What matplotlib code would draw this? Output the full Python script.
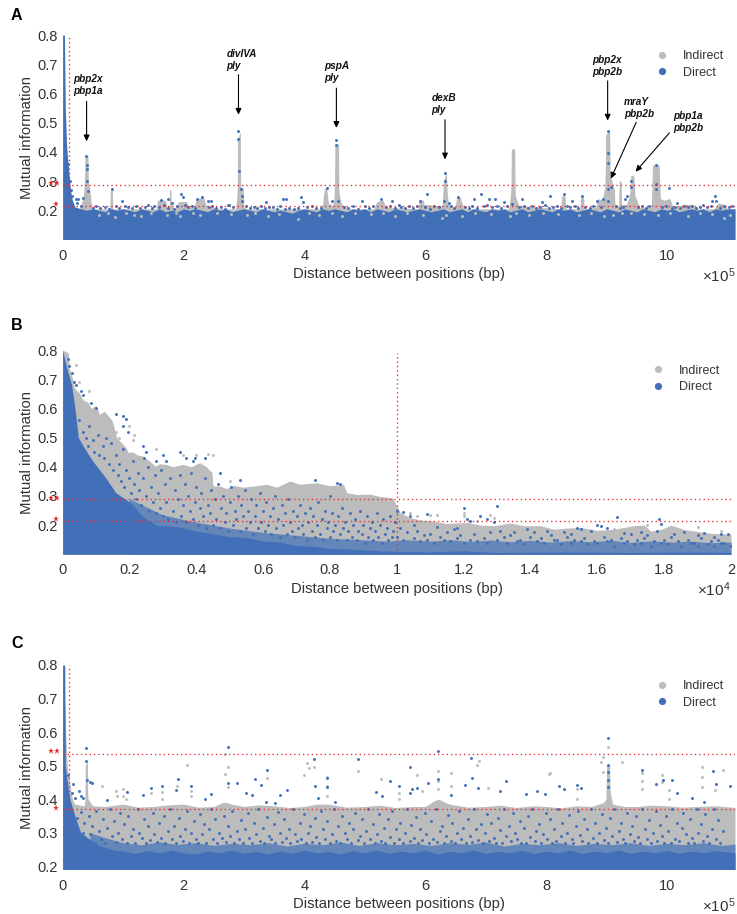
import numpy as np
import matplotlib
matplotlib.use('Agg')
import matplotlib.pyplot as plt
from matplotlib.lines import Line2D
from matplotlib.transforms import blended_transform_factory

plt.rcParams['font.family'] = ['Liberation Sans', 'DejaVu Sans']
plt.rcParams['mathtext.fontset'] = 'custom'
plt.rcParams['mathtext.rm'] = 'Liberation Sans'

BLUE = '#4170b8'
GREY = '#bcbcbc'
RED = '#e8262c'
TEXT = '#333333'

# The dense clouds cannot be read point by point: they are kept as read-off
# upper envelopes. Dots standing apart are read one by one; the *_fill lists
# inside the clouds are hand estimates of where dots sit, to match the density.

# ---- panel A (x in 1e5 bp)
a_blue_top_x = [0, 0.03, 0.045, 0.066, 0.094, 0.13, 0.16, 0.2, 0.3, 0.4, 0.5, 0.6, 0.7, 0.8, 0.9, 1.0, 1.1, 1.2, 1.3, 1.4, 1.5, 1.6, 1.7, 1.8, 1.9, 2.0, 2.1, 2.2, 2.3, 2.4, 2.5, 2.6, 2.7, 2.8, 2.9, 3.0, 3.1, 3.2, 3.3, 3.4, 3.5, 3.6, 3.7, 3.8, 3.9, 4.0, 4.1, 4.2, 4.3, 4.4, 4.5, 4.6, 4.7, 4.8, 4.9, 5.0, 5.1, 5.2, 5.3, 5.4, 5.5, 5.6, 5.7, 5.8, 5.9, 6.0, 6.1, 6.2, 6.3, 6.4, 6.5, 6.6, 6.7, 6.8, 6.9, 7.0, 7.1, 7.2, 7.3, 7.4, 7.5, 7.6, 7.7, 7.8, 7.9, 8.0, 8.1, 8.2, 8.3, 8.4, 8.5, 8.6, 8.7, 8.8, 8.9, 9.0, 9.1, 9.2, 9.3, 9.4, 9.5, 9.6, 9.7, 9.8, 9.9, 10.0, 10.1, 10.2, 10.3, 10.4, 10.5, 10.6, 10.7, 10.8, 10.9, 11.0, 11.125]
a_blue_top = [0.8, 0.8, 0.55, 0.42, 0.35, 0.27, 0.235, 0.212, 0.205, 0.2, 0.205, 0.2, 0.195, 0.205, 0.2, 0.205, 0.2, 0.195, 0.205, 0.2, 0.195, 0.205, 0.195, 0.2, 0.195, 0.205, 0.2, 0.205, 0.2, 0.195, 0.205, 0.2, 0.205, 0.195, 0.2, 0.205, 0.2, 0.195, 0.205, 0.2, 0.195, 0.2, 0.195, 0.19, 0.2, 0.205, 0.2, 0.195, 0.205, 0.2, 0.205, 0.2, 0.195, 0.205, 0.2, 0.205, 0.195, 0.205, 0.2, 0.195, 0.205, 0.2, 0.195, 0.2, 0.205, 0.2, 0.195, 0.2, 0.205, 0.195, 0.2, 0.205, 0.195, 0.205, 0.2, 0.195, 0.205, 0.2, 0.205, 0.195, 0.2, 0.205, 0.195, 0.2, 0.205, 0.2, 0.195, 0.205, 0.2, 0.205, 0.195, 0.2, 0.205, 0.2, 0.195, 0.205, 0.2, 0.195, 0.205, 0.2, 0.195, 0.205, 0.2, 0.195, 0.205, 0.2, 0.205, 0.195, 0.2, 0.205, 0.2, 0.205, 0.195, 0.205, 0.2, 0.205, 0.205]
a_grey_top_x = [0.2, 0.3, 0.33, 0.345, 0.36, 0.365, 0.37, 0.42, 0.425, 0.45, 0.47, 0.5, 0.78, 0.785, 0.79, 0.825, 0.83, 1.55, 1.57, 1.62, 1.7, 1.73, 1.765, 1.77, 1.79, 1.8, 1.85, 1.9, 1.92, 2.05, 2.1, 2.18, 2.2, 2.24, 2.33, 2.38, 2.5, 2.6, 2.86, 2.88, 2.89, 2.895, 2.94, 2.945, 2.95, 2.99, 3.0, 3.05, 4.25, 4.3, 4.33, 4.37, 4.4, 4.42, 4.47, 4.49, 4.5, 4.505, 4.565, 4.57, 4.59, 4.62, 4.7, 5.15, 5.2, 5.3, 5.35, 5.88, 5.9, 5.97, 5.98, 6.28, 6.29, 6.3, 6.35, 6.36, 6.38, 6.45, 6.5, 6.52, 6.58, 6.6, 6.65, 7.38, 7.41, 7.42, 7.425, 7.48, 7.485, 7.49, 7.55, 8.24, 8.26, 8.31, 8.33, 8.56, 8.57, 8.62, 8.63, 8.82, 8.86, 8.93, 8.97, 8.98, 8.985, 9.05, 9.06, 9.13, 9.14, 9.2, 9.21, 9.24, 9.25, 9.33, 9.37, 9.39, 9.40, 9.45, 9.47, 9.5, 9.55, 9.74, 9.75, 9.76, 9.87, 9.88, 9.89, 9.95, 10.05, 10.1, 10.3, 10.4, 10.5, 10.78, 10.85, 10.95, 11.0, 11.125]
a_grey_top = [0.2, 0.21, 0.24, 0.245, 0.3, 0.33, 0.385, 0.385, 0.3, 0.27, 0.23, 0.205, 0.205, 0.235, 0.27, 0.27, 0.205, 0.205, 0.235, 0.235, 0.235, 0.21, 0.215, 0.27, 0.27, 0.215, 0.205, 0.22, 0.23, 0.23, 0.21, 0.21, 0.235, 0.24, 0.245, 0.215, 0.21, 0.205, 0.205, 0.24, 0.28, 0.44, 0.47, 0.3, 0.28, 0.275, 0.21, 0.205, 0.205, 0.22, 0.275, 0.275, 0.22, 0.225, 0.215, 0.24, 0.3, 0.42, 0.43, 0.27, 0.24, 0.22, 0.205, 0.205, 0.23, 0.235, 0.21, 0.205, 0.235, 0.235, 0.22, 0.215, 0.25, 0.3, 0.33, 0.27, 0.225, 0.205, 0.215, 0.245, 0.245, 0.23, 0.205, 0.205, 0.25, 0.3, 0.41, 0.41, 0.3, 0.25, 0.215, 0.205, 0.25, 0.25, 0.205, 0.205, 0.245, 0.245, 0.205, 0.21, 0.24, 0.235, 0.28, 0.34, 0.46, 0.47, 0.32, 0.27, 0.215, 0.215, 0.3, 0.3, 0.22, 0.22, 0.245, 0.27, 0.32, 0.32, 0.25, 0.235, 0.21, 0.21, 0.28, 0.355, 0.355, 0.29, 0.24, 0.235, 0.24, 0.21, 0.22, 0.22, 0.205, 0.205, 0.225, 0.22, 0.205, 0.205]
a_dots_x = [0.094, 0.08, 0.115, 0.14, 0.15, 0.22, 0.26, 0.33, 0.39, 0.4, 0.4, 0.41, 0.42, 0.81, 0.99, 1.63, 1.74, 1.81, 1.96, 1.99, 2.3, 2.22, 2.4, 2.45, 2.76, 2.91, 2.91, 2.92, 2.95, 2.97, 2.97, 3.37, 3.65, 3.7, 3.94, 3.98, 4.37, 4.45, 4.52, 4.53, 4.55, 4.95, 5.26, 5.45, 5.56, 5.92, 6.03, 6.32, 6.33, 6.31, 6.39, 6.54, 6.8, 6.92, 7.05, 7.16, 7.3, 7.44, 7.6, 7.93, 8.07, 8.29, 8.43, 8.59, 8.84, 8.94, 9.02, 9.02, 9.02, 9.02, 9.07, 9.03, 9.31, 9.34, 9.41, 9.41, 9.81, 9.81, 9.82, 10.03, 10.17, 10.79, 10.74, 10.81]
a_dots_y = [0.357, 0.346, 0.3, 0.269, 0.25, 0.238, 0.24, 0.243, 0.385, 0.354, 0.34, 0.3, 0.266, 0.272, 0.232, 0.234, 0.237, 0.226, 0.255, 0.247, 0.247, 0.238, 0.233, 0.233, 0.218, 0.473, 0.444, 0.336, 0.274, 0.25, 0.232, 0.229, 0.238, 0.237, 0.246, 0.229, 0.275, 0.232, 0.439, 0.423, 0.232, 0.232, 0.238, 0.232, 0.218, 0.232, 0.255, 0.327, 0.3, 0.232, 0.226, 0.245, 0.238, 0.255, 0.238, 0.24, 0.23, 0.22, 0.238, 0.23, 0.25, 0.255, 0.233, 0.25, 0.232, 0.238, 0.47, 0.397, 0.362, 0.272, 0.28, 0.232, 0.24, 0.25, 0.3, 0.278, 0.355, 0.289, 0.272, 0.277, 0.226, 0.25, 0.232, 0.232]
a_fill_x = [0.23, 0.3, 0.5, 0.55, 0.62, 0.7, 0.76, 0.88, 0.94, 1.03, 1.09, 1.15, 1.22, 1.28, 1.36, 1.41, 1.48, 1.52, 1.59, 1.68, 1.75, 1.84, 1.9, 2.02, 2.08, 2.14, 2.19, 2.42, 2.48, 2.54, 2.62, 2.68, 2.74, 2.82, 3.04, 3.1, 3.16, 3.22, 3.29, 3.35, 3.42, 3.48, 3.55, 3.6, 3.68, 3.75, 3.83, 3.9, 4.05, 4.12, 4.2, 4.27, 4.65, 4.72, 4.8, 4.88, 5.0, 5.07, 5.13, 5.35, 5.42, 5.5, 5.6, 5.66, 5.73, 5.8, 5.86, 6.0, 6.08, 6.15, 6.22, 6.42, 6.48, 6.66, 6.72, 6.78, 6.86, 6.97, 7.02, 7.1, 7.18, 7.26, 7.35, 7.55, 7.63, 7.7, 7.77, 7.84, 7.9, 7.98, 8.04, 8.11, 8.18, 8.24, 8.34, 8.4, 8.47, 8.52, 8.65, 8.72, 8.78, 8.9, 9.16, 9.22, 9.28, 9.52, 9.58, 9.65, 9.7, 9.92, 9.98, 10.08, 10.14, 10.22, 10.28, 10.34, 10.42, 10.48, 10.54, 10.6, 10.66, 10.72, 10.88, 10.94, 11.02, 11.08]
a_fill_y = [0.225, 0.216, 0.209, 0.214, 0.208, 0.212, 0.206, 0.216, 0.209, 0.213, 0.21, 0.207, 0.215, 0.209, 0.212, 0.218, 0.208, 0.213, 0.21, 0.217, 0.209, 0.206, 0.214, 0.218, 0.21, 0.215, 0.208, 0.21, 0.214, 0.208, 0.212, 0.206, 0.218, 0.21, 0.214, 0.208, 0.212, 0.207, 0.216, 0.208, 0.212, 0.21, 0.206, 0.213, 0.205, 0.209, 0.204, 0.208, 0.212, 0.216, 0.209, 0.207, 0.212, 0.209, 0.214, 0.206, 0.213, 0.209, 0.216, 0.21, 0.215, 0.208, 0.212, 0.207, 0.216, 0.209, 0.214, 0.21, 0.206, 0.216, 0.21, 0.213, 0.208, 0.212, 0.209, 0.216, 0.207, 0.213, 0.218, 0.21, 0.214, 0.208, 0.216, 0.21, 0.213, 0.207, 0.215, 0.209, 0.212, 0.217, 0.208, 0.211, 0.216, 0.208, 0.213, 0.21, 0.215, 0.209, 0.212, 0.207, 0.216, 0.21, 0.214, 0.208, 0.212, 0.21, 0.216, 0.209, 0.213, 0.21, 0.215, 0.208, 0.212, 0.207, 0.216, 0.21, 0.214, 0.208, 0.212, 0.217, 0.21, 0.215, 0.209, 0.213, 0.21, 0.214]
a_speck_x = [0.6, 0.75, 0.86, 1.05, 1.18, 1.3, 1.46, 1.72, 1.88, 1.95, 2.15, 2.28, 2.56, 2.78, 3.05, 3.18, 3.4, 3.58, 3.9, 4.08, 4.25, 4.45, 4.62, 4.84, 5.1, 5.3, 5.5, 5.7, 5.96, 6.28, 6.35, 6.6, 6.82, 7.08, 7.4, 7.5, 7.72, 7.95, 8.2, 8.55, 8.75, 8.95, 9.1, 9.25, 9.4, 9.62, 9.85, 10.05, 10.35, 10.55, 10.75, 10.95, 11.05]
a_speck_y = [0.185, 0.192, 0.178, 0.19, 0.184, 0.18, 0.192, 0.185, 0.19, 0.18, 0.19, 0.183, 0.19, 0.186, 0.185, 0.192, 0.18, 0.188, 0.17, 0.192, 0.185, 0.19, 0.182, 0.192, 0.187, 0.19, 0.18, 0.19, 0.185, 0.175, 0.185, 0.18, 0.192, 0.186, 0.18, 0.19, 0.183, 0.192, 0.186, 0.185, 0.19, 0.18, 0.185, 0.192, 0.19, 0.186, 0.185, 0.192, 0.18, 0.19, 0.186, 0.175, 0.185]

# ---- panel B (x in 1e4 bp)
b_grey_top_x = [0, 0.017, 0.02, 0.03, 0.035, 0.052, 0.06, 0.077, 0.085, 0.1, 0.11, 0.125, 0.147, 0.15, 0.162, 0.17, 0.19, 0.195, 0.21, 0.225, 0.24, 0.26, 0.277, 0.29, 0.31, 0.33, 0.36, 0.385, 0.41, 0.43, 0.447, 0.45, 0.47, 0.49, 0.51, 0.54, 0.58, 0.61, 0.64, 0.68, 0.71, 0.76, 0.8, 0.84, 0.85, 0.88, 0.92, 0.95, 0.987, 1.0, 1.01, 1.04, 1.07, 1.11, 1.15, 1.21, 1.25, 1.29, 1.34, 1.38, 1.43, 1.47, 1.51, 1.55, 1.6, 1.65, 1.71, 1.74, 1.76, 1.79, 1.82, 1.86, 1.89, 1.94, 2.0]
b_grey_top = [0.8, 0.79, 0.74, 0.7, 0.67, 0.65, 0.63, 0.62, 0.6, 0.61, 0.58, 0.59, 0.56, 0.55, 0.5, 0.49, 0.465, 0.45, 0.45, 0.44, 0.436, 0.42, 0.402, 0.41, 0.408, 0.4, 0.408, 0.4, 0.414, 0.4, 0.38, 0.334, 0.334, 0.325, 0.336, 0.33, 0.335, 0.34, 0.33, 0.351, 0.34, 0.345, 0.335, 0.34, 0.311, 0.305, 0.306, 0.298, 0.294, 0.266, 0.243, 0.226, 0.218, 0.213, 0.206, 0.209, 0.2, 0.198, 0.207, 0.198, 0.198, 0.186, 0.19, 0.192, 0.182, 0.186, 0.198, 0.2, 0.18, 0.185, 0.2, 0.185, 0.18, 0.172, 0.169]
b_blue_top_x = [0, 0.012, 0.027, 0.037, 0.047, 0.062, 0.09, 0.13, 0.16, 0.2, 0.24, 0.28, 0.34, 0.4, 0.45, 0.5, 0.55, 0.6, 0.65, 0.7, 0.75, 0.8, 0.85, 0.9, 0.95, 1.0, 1.1, 1.2, 1.3, 1.5, 1.7, 1.9, 2.0]
b_blue_top = [0.8, 0.74, 0.68, 0.6, 0.5, 0.47, 0.42, 0.36, 0.31, 0.28, 0.23, 0.2, 0.195, 0.18, 0.17, 0.16, 0.158, 0.145, 0.142, 0.13, 0.128, 0.12, 0.118, 0.115, 0.112, 0.11, 0.108, 0.112, 0.106, 0.108, 0.106, 0.108, 0.106]
b_haze_x = [0.2, 0.3, 0.4, 0.5, 0.6, 0.7, 0.8, 0.9, 0.97, 1.03, 1.1, 1.16, 1.22, 1.28, 1.34, 1.4, 1.46, 1.52, 1.58, 1.64, 1.7, 1.76, 1.82, 1.88, 1.94, 2.0]
b_haze_top = [0.29, 0.235, 0.21, 0.19, 0.175, 0.165, 0.155, 0.15, 0.145, 0.15, 0.145, 0.15, 0.144, 0.149, 0.143, 0.148, 0.142, 0.147, 0.143, 0.148, 0.141, 0.146, 0.142, 0.145, 0.14, 0.142]
b_dots_x = [0.015, 0.02, 0.028, 0.035, 0.04, 0.055, 0.06, 0.085, 0.1, 0.16, 0.18, 0.19, 0.18, 0.195, 0.24, 0.25, 0.245, 0.28, 0.3, 0.31, 0.35, 0.37, 0.39, 0.395, 0.425, 0.47, 0.53, 0.755, 0.82, 0.83, 0.8]
b_dots_y = [0.77, 0.745, 0.72, 0.69, 0.68, 0.66, 0.645, 0.62, 0.6, 0.58, 0.575, 0.565, 0.54, 0.52, 0.47, 0.45, 0.43, 0.42, 0.44, 0.42, 0.45, 0.43, 0.42, 0.43, 0.43, 0.38, 0.355, 0.355, 0.345, 0.34, 0.3]
b_fill_x = [0.05, 0.06, 0.07, 0.075, 0.08, 0.09, 0.095, 0.105, 0.11, 0.12, 0.125, 0.13, 0.14, 0.145, 0.15, 0.16, 0.165, 0.17, 0.175, 0.18, 0.185, 0.19, 0.2, 0.205, 0.21, 0.215, 0.22, 0.225, 0.23, 0.235, 0.24, 0.25, 0.255, 0.26, 0.265, 0.27, 0.275, 0.28, 0.285, 0.29, 0.295, 0.3, 0.305, 0.31, 0.315, 0.32, 0.33, 0.335, 0.34, 0.345, 0.35, 0.355, 0.36, 0.365, 0.37, 0.375, 0.38, 0.385, 0.39, 0.395, 0.4, 0.405, 0.41, 0.415, 0.42, 0.425, 0.43, 0.435, 0.44, 0.445, 0.45, 0.455, 0.46, 0.465, 0.47, 0.475, 0.48, 0.485, 0.49, 0.495, 0.5, 0.505, 0.51, 0.515, 0.52, 0.525, 0.53, 0.535, 0.54, 0.545, 0.55, 0.555, 0.56, 0.565, 0.57, 0.575, 0.58, 0.585, 0.59, 0.595, 0.6, 0.605, 0.61, 0.615, 0.62, 0.625, 0.63, 0.635, 0.64, 0.645, 0.65, 0.655, 0.66, 0.665, 0.67, 0.675, 0.68, 0.685, 0.69, 0.695, 0.7, 0.705, 0.71, 0.715, 0.72, 0.725, 0.73, 0.735, 0.74, 0.745, 0.75, 0.755, 0.76, 0.765, 0.77, 0.775, 0.78, 0.785, 0.79, 0.795, 0.8, 0.805, 0.81, 0.815, 0.82, 0.825, 0.83, 0.835, 0.84, 0.845, 0.85, 0.855, 0.86, 0.865, 0.87, 0.875, 0.88, 0.885, 0.89, 0.895, 0.9, 0.905, 0.91, 0.915, 0.92, 0.925, 0.93, 0.935, 0.94, 0.945, 0.95, 0.955, 0.96, 0.965, 0.97, 0.975, 0.98, 0.985, 0.99, 0.995]
b_fill_y = [0.56, 0.52, 0.5, 0.47, 0.54, 0.49, 0.45, 0.51, 0.44, 0.47, 0.43, 0.5, 0.41, 0.48, 0.39, 0.44, 0.37, 0.41, 0.35, 0.46, 0.33, 0.39, 0.36, 0.31, 0.42, 0.34, 0.29, 0.38, 0.32, 0.27, 0.36, 0.3, 0.4, 0.25, 0.33, 0.28, 0.37, 0.24, 0.31, 0.26, 0.39, 0.23, 0.34, 0.28, 0.22, 0.36, 0.25, 0.32, 0.21, 0.29, 0.37, 0.23, 0.27, 0.34, 0.21, 0.3, 0.25, 0.38, 0.22, 0.28, 0.33, 0.2, 0.26, 0.31, 0.23, 0.36, 0.19, 0.27, 0.24, 0.32, 0.2, 0.29, 0.22, 0.34, 0.19, 0.26, 0.3, 0.21, 0.24, 0.18, 0.28, 0.33, 0.2, 0.25, 0.22, 0.3, 0.18, 0.27, 0.23, 0.32, 0.19, 0.25, 0.21, 0.29, 0.17, 0.23, 0.27, 0.19, 0.31, 0.21, 0.25, 0.18, 0.28, 0.2, 0.23, 0.17, 0.26, 0.3, 0.19, 0.22, 0.16, 0.27, 0.2, 0.24, 0.17, 0.29, 0.21, 0.18, 0.25, 0.16, 0.23, 0.19, 0.27, 0.2, 0.17, 0.24, 0.15, 0.21, 0.26, 0.18, 0.23, 0.16, 0.2, 0.28, 0.17, 0.22, 0.15, 0.25, 0.19, 0.21, 0.16, 0.24, 0.18, 0.2, 0.15, 0.23, 0.17, 0.26, 0.19, 0.21, 0.15, 0.18, 0.24, 0.16, 0.2, 0.22, 0.15, 0.18, 0.25, 0.17, 0.2, 0.14, 0.23, 0.16, 0.19, 0.21, 0.15, 0.18, 0.24, 0.16, 0.2, 0.14, 0.22, 0.17, 0.19, 0.15, 0.23, 0.16, 0.18, 0.21, 0.14, 0.2, 0.16, 0.24, 0.15, 0.19, 0.17, 0.22]
b_right_x = [1.0, 1.02, 1.04, 1.09, 1.2, 1.21, 1.22, 1.25, 1.27, 1.29, 1.3, 1.66, 1.785, 1.79, 1.6, 1.61, 1.54, 1.55, 1.05, 1.12, 1.17, 1.18, 1.31, 1.35, 1.39, 1.41, 1.45, 1.5, 1.52, 1.58, 1.63, 1.68, 1.7, 1.73, 1.75, 1.78, 1.83, 1.86, 1.9, 1.92, 1.95, 1.97, 1.99,
             1.01, 1.03, 1.06, 1.08, 1.1, 1.13, 1.15, 1.19, 1.23, 1.26, 1.28, 1.32, 1.34, 1.37, 1.4, 1.43, 1.46, 1.48, 1.51, 1.53, 1.56, 1.59, 1.62, 1.64, 1.67, 1.69, 1.72, 1.74, 1.77, 1.8, 1.82, 1.84, 1.87, 1.89, 1.91, 1.94, 1.96, 1.98,
             1.0, 1.02, 1.05, 1.07, 1.09, 1.11, 1.14, 1.16, 1.18, 1.2, 1.22, 1.24, 1.27, 1.3, 1.33, 1.36, 1.38, 1.42, 1.44, 1.47, 1.49, 1.52, 1.55, 1.57, 1.6, 1.63, 1.65, 1.68, 1.71, 1.73, 1.76, 1.79, 1.81, 1.85, 1.88, 1.9, 1.93, 1.95, 1.97, 2.0]
b_right_y = [0.25, 0.245, 0.23, 0.238, 0.26, 0.22, 0.213, 0.232, 0.22, 0.21, 0.265, 0.228, 0.22, 0.205, 0.2, 0.198, 0.19, 0.188, 0.2, 0.195, 0.185, 0.19, 0.18, 0.178, 0.185, 0.175, 0.18, 0.175, 0.17, 0.18, 0.19, 0.172, 0.168, 0.175, 0.165, 0.18, 0.17, 0.175, 0.165, 0.172, 0.16, 0.17, 0.168,
             0.19, 0.175, 0.18, 0.165, 0.17, 0.16, 0.175, 0.165, 0.17, 0.155, 0.175, 0.16, 0.165, 0.15, 0.16, 0.155, 0.165, 0.15, 0.16, 0.148, 0.155, 0.145, 0.16, 0.15, 0.155, 0.145, 0.15, 0.155, 0.145, 0.15, 0.16, 0.145, 0.15, 0.14, 0.155, 0.145, 0.15, 0.14,
             0.16, 0.15, 0.155, 0.145, 0.15, 0.14, 0.15, 0.145, 0.155, 0.14, 0.15, 0.145, 0.14, 0.15, 0.14, 0.145, 0.135, 0.145, 0.14, 0.15, 0.135, 0.14, 0.145, 0.135, 0.14, 0.145, 0.13, 0.14, 0.135, 0.14, 0.13, 0.14, 0.135, 0.13, 0.14, 0.13, 0.135, 0.13, 0.14, 0.13]
b_grey_dots_x = [0.2, 0.215, 0.21, 0.36, 0.4, 0.435, 0.45, 0.04, 0.08, 0.05, 0.16, 0.17, 0.28, 0.5, 1.1, 1.12, 1.2, 1.2, 1.28, 1.29, 1.24, 1.04, 1.06, 1.72, 1.75, 1.65, 1.9, 1.97]
b_grey_dots_y = [0.54, 0.51, 0.49, 0.44, 0.44, 0.445, 0.44, 0.75, 0.66, 0.69, 0.52, 0.5, 0.46, 0.35, 0.235, 0.235, 0.24, 0.23, 0.235, 0.225, 0.215, 0.24, 0.232, 0.195, 0.2, 0.185, 0.195, 0.18]

# ---- panel C (x in 1e5 bp)
c_grey_top_x = [0, 0.03, 0.06, 0.08, 0.1, 0.16, 0.2, 0.36, 0.37, 0.375, 0.41, 0.415, 0.42, 0.5, 0.7, 1.0, 1.25, 1.5, 1.75, 2.0, 2.25, 2.5, 2.65, 2.7, 2.8, 3.0, 3.25, 3.5, 3.75, 4.0, 4.2, 4.4, 4.7, 5.0, 5.25, 5.5, 5.8, 6.0, 6.15, 6.22, 6.4, 6.7, 7.0, 7.25, 7.5, 7.8, 8.0, 8.25, 8.5, 8.75, 8.95, 8.99, 9.0, 9.05, 9.06, 9.1, 9.3, 9.5, 9.75, 10.0, 10.25, 10.5, 10.8, 11.125]
c_grey_top = [0.8, 0.7, 0.56, 0.49, 0.47, 0.4, 0.385, 0.38, 0.4, 0.5, 0.515, 0.42, 0.4, 0.38, 0.378, 0.385, 0.376, 0.378, 0.383, 0.385, 0.376, 0.378, 0.39, 0.39, 0.385, 0.378, 0.383, 0.38, 0.375, 0.378, 0.385, 0.385, 0.376, 0.378, 0.382, 0.375, 0.378, 0.378, 0.395, 0.4, 0.385, 0.376, 0.378, 0.382, 0.375, 0.38, 0.378, 0.374, 0.38, 0.378, 0.39, 0.4, 0.5, 0.5, 0.42, 0.385, 0.378, 0.378, 0.382, 0.38, 0.376, 0.378, 0.38, 0.375]
c_blue_top_x = [0, 0.035, 0.045, 0.07, 0.12, 0.17, 0.22, 0.3, 0.45, 0.6, 0.8, 1.0, 1.2, 1.4, 1.6, 1.8, 2.0, 2.2, 2.4, 2.6, 2.8, 3.0, 3.2, 3.4, 3.6, 3.8, 4.0, 4.2, 4.4, 4.6, 4.8, 5.0, 5.2, 5.4, 5.6, 5.8, 6.0, 6.2, 6.4, 6.6, 6.8, 7.0, 7.2, 7.4, 7.6, 7.8, 8.0, 8.2, 8.4, 8.6, 8.8, 9.0, 9.2, 9.4, 9.6, 9.8, 10.0, 10.2, 10.4, 10.6, 10.8, 11.125]
c_blue_top = [0.8, 0.8, 0.5, 0.46, 0.4, 0.37, 0.34, 0.3, 0.28, 0.262, 0.25, 0.245, 0.238, 0.246, 0.24, 0.248, 0.24, 0.236, 0.245, 0.24, 0.248, 0.238, 0.244, 0.236, 0.245, 0.238, 0.248, 0.24, 0.244, 0.236, 0.246, 0.24, 0.248, 0.238, 0.245, 0.24, 0.248, 0.236, 0.244, 0.24, 0.248, 0.238, 0.244, 0.24, 0.247, 0.237, 0.245, 0.24, 0.248, 0.238, 0.245, 0.24, 0.248, 0.238, 0.245, 0.24, 0.247, 0.238, 0.245, 0.24, 0.246, 0.24]
c_haze_x = [0.45, 0.7, 1.0, 1.3, 1.6, 1.9, 2.2, 2.5, 2.8, 3.1, 3.4, 3.7, 4.0, 4.3, 4.6, 4.9, 5.2, 5.5, 5.8, 6.1, 6.4, 6.7, 7.0, 7.3, 7.6, 7.9, 8.2, 8.5, 8.8, 9.1, 9.4, 9.7, 10.0, 10.3, 10.6, 10.9, 11.125]
c_haze_top = [0.3, 0.285, 0.27, 0.264, 0.272, 0.265, 0.27, 0.262, 0.268, 0.264, 0.27, 0.26, 0.268, 0.264, 0.272, 0.262, 0.27, 0.264, 0.268, 0.262, 0.27, 0.265, 0.272, 0.26, 0.268, 0.264, 0.27, 0.262, 0.268, 0.264, 0.27, 0.262, 0.268, 0.264, 0.27, 0.262, 0.266]
c_dots_x = [0.386, 0.386, 0.397, 0.45, 0.48, 0.09, 0.176, 0.276, 0.3, 0.15, 0.2, 0.34, 0.73, 1.06, 1.33, 1.46, 1.64, 1.91, 1.87, 2.12, 2.36, 2.45, 2.73, 2.73, 2.88, 3.04, 3.13, 3.18, 3.29, 3.39, 3.37, 3.51, 3.6, 3.72, 4.16, 4.18, 4.37, 4.37, 4.89, 4.5, 4.23,
            5.29, 5.19, 5.42, 5.57, 5.75, 5.78, 5.74, 5.87, 6.05, 6.21, 6.21, 6.42, 6.66, 6.76, 6.77, 6.87, 7.24, 7.34, 7.66, 7.85, 7.98, 8.22, 8.3, 8.51, 8.57, 9.02, 9.02, 9.02, 9.02, 9.02, 9.59, 9.82, 9.94, 10.09, 10.17, 10.41, 10.76, 10.81, 11.04, 10.61]
c_dots_y = [0.551, 0.514, 0.457, 0.452, 0.447, 0.472, 0.445, 0.425, 0.41, 0.417, 0.402, 0.402, 0.397, 0.42, 0.412, 0.432, 0.44, 0.46, 0.427, 0.44, 0.4, 0.415, 0.554, 0.449, 0.447, 0.419, 0.412, 0.46, 0.442, 0.487, 0.392, 0.387, 0.412, 0.427, 0.521, 0.439, 0.437, 0.464, 0.521, 0.39, 0.402,
            0.409, 0.42, 0.455, 0.44, 0.497, 0.429, 0.419, 0.432, 0.447, 0.543, 0.46, 0.412, 0.441, 0.524, 0.464, 0.432, 0.424, 0.454, 0.415, 0.425, 0.415, 0.439, 0.43, 0.442, 0.432, 0.583, 0.501, 0.482, 0.457, 0.437, 0.487, 0.445, 0.457, 0.457, 0.417, 0.404, 0.484, 0.444, 0.44, 0.392]
c_grey_dots_x = [2.05, 2.69, 2.74, 2.69, 2.74, 4.04, 4.16, 4.07, 3.99, 3.39, 4.38, 4.89, 0.645, 0.89, 1.0, 1.46, 1.9, 2.12, 2.12, 1.64, 1.64, 5.27, 5.87, 5.57, 5.57, 5.95, 6.21, 6.21, 6.21, 6.42, 6.42, 6.86, 6.89, 7.04, 8.04, 8.07, 8.94, 9.02, 8.9, 8.94, 9.26, 9.59, 9.59, 9.59, 9.92, 9.92, 10.58, 10.58, 10.58, 10.92, 10.03, 10.8, 10.03, 8.51, 8.51, 4.37, 4.37, 1.0, 0.9, 1.05]
c_grey_dots_y = [0.503, 0.534, 0.495, 0.475, 0.437, 0.509, 0.497, 0.494, 0.472, 0.462, 0.467, 0.485, 0.44, 0.425, 0.429, 0.417, 0.44, 0.425, 0.41, 0.42, 0.4, 0.459, 0.472, 0.417, 0.4, 0.425, 0.484, 0.455, 0.43, 0.477, 0.44, 0.503, 0.514, 0.434, 0.475, 0.479, 0.526, 0.556, 0.511, 0.48, 0.511, 0.477, 0.455, 0.43, 0.472, 0.45, 0.497, 0.467, 0.437, 0.487, 0.427, 0.427, 0.4, 0.43, 0.4, 0.44, 0.41, 0.41, 0.41, 0.4]
c_fill_x = [0.21, 0.24, 0.27, 0.31, 0.33, 0.36, 0.39, 0.43, 0.46, 0.49, 0.53, 0.56, 0.6, 0.63, 0.67, 0.7, 0.74, 0.78, 0.81, 0.85, 0.88, 0.92, 0.95, 0.99, 1.02, 1.06, 1.09, 1.13, 1.17, 1.2, 1.24, 1.27, 1.31, 1.34, 1.38, 1.42, 1.45, 1.49, 1.52, 1.56, 1.59, 1.63, 1.67, 1.7, 1.74, 1.77, 1.81, 1.84, 1.88, 1.92, 1.95, 1.99, 2.02, 2.06, 2.09, 2.13, 2.17, 2.2, 2.24, 2.27, 2.31, 2.34, 2.38, 2.42, 2.45, 2.49, 2.52, 2.56, 2.59, 2.63, 2.67, 2.7, 2.74, 2.77, 2.81, 2.84, 2.88, 2.92, 2.95, 2.99, 3.02, 3.06, 3.09, 3.13, 3.17, 3.2, 3.24, 3.27, 3.31, 3.34, 3.38, 3.42, 3.45, 3.49, 3.52, 3.56, 3.59, 3.63, 3.67, 3.7, 3.74, 3.77, 3.81, 3.84, 3.88, 3.92, 3.95, 3.99, 4.02, 4.06, 4.09, 4.13, 4.17, 4.2, 4.24, 4.27, 4.31, 4.34, 4.38, 4.42, 4.45, 4.49, 4.52, 4.56, 4.59, 4.63, 4.67, 4.7, 4.74, 4.77, 4.81, 4.84, 4.88, 4.92, 4.95, 4.99, 5.02, 5.06, 5.09, 5.13, 5.17, 5.2, 5.24, 5.27, 5.31, 5.34, 5.38, 5.42, 5.45, 5.49, 5.52, 5.56, 5.59, 5.63, 5.67, 5.7, 5.74, 5.77, 5.81, 5.84, 5.88, 5.92, 5.95, 5.99, 6.02, 6.06, 6.09, 6.13, 6.17, 6.2, 6.24, 6.27, 6.31, 6.34, 6.38, 6.42, 6.45, 6.49, 6.52, 6.56, 6.59, 6.63, 6.67, 6.7, 6.74, 6.77, 6.81, 6.84, 6.88, 6.92, 6.95, 6.99, 7.02, 7.06, 7.09, 7.13, 7.17, 7.2, 7.24, 7.27, 7.31, 7.34, 7.38, 7.42, 7.45, 7.49, 7.52, 7.56, 7.59, 7.63, 7.67, 7.7, 7.74, 7.77, 7.81, 7.84, 7.88, 7.92, 7.95, 7.99, 8.02, 8.06, 8.09, 8.13, 8.17, 8.2, 8.24, 8.27, 8.31, 8.34, 8.38, 8.42, 8.45, 8.49, 8.52, 8.56, 8.59, 8.63, 8.67, 8.7, 8.74, 8.77, 8.81, 8.84, 8.88, 8.92, 8.95, 8.99, 9.02, 9.06, 9.09, 9.13, 9.17, 9.2, 9.24, 9.27, 9.31, 9.34, 9.38, 9.42, 9.45, 9.49, 9.52, 9.56, 9.59, 9.63, 9.67, 9.7, 9.74, 9.77, 9.81, 9.84, 9.88, 9.92, 9.95, 9.99, 10.02, 10.06, 10.09, 10.13, 10.17, 10.2, 10.24, 10.27, 10.31, 10.34, 10.38, 10.42, 10.45, 10.49, 10.52, 10.56, 10.59, 10.63, 10.67, 10.7, 10.74, 10.77, 10.81, 10.84, 10.88, 10.92, 10.95, 10.99, 11.02, 11.06, 11.09]
c_fill_y = [0.31, 0.345, 0.28, 0.362, 0.3, 0.33, 0.275, 0.35, 0.295, 0.32, 0.27, 0.365, 0.305, 0.28, 0.34, 0.27, 0.315, 0.37, 0.29, 0.335, 0.272, 0.3, 0.36, 0.28, 0.325, 0.268, 0.35, 0.29, 0.31, 0.27, 0.37, 0.3, 0.285, 0.34, 0.268, 0.32, 0.278, 0.36, 0.295, 0.272, 0.33, 0.285, 0.35, 0.27, 0.305, 0.37, 0.28, 0.32, 0.268, 0.345, 0.29, 0.275, 0.31, 0.365, 0.27, 0.3, 0.335, 0.282, 0.27, 0.355, 0.295, 0.325, 0.27, 0.31, 0.37, 0.28, 0.34, 0.268, 0.3, 0.285, 0.35, 0.272, 0.32, 0.29, 0.365, 0.27, 0.305, 0.28, 0.338, 0.268, 0.31, 0.36, 0.285, 0.27, 0.33, 0.295, 0.37, 0.275, 0.315, 0.268, 0.348, 0.29, 0.28, 0.325, 0.27, 0.362, 0.3, 0.272, 0.34, 0.285, 0.31, 0.268, 0.37, 0.295, 0.275, 0.33, 0.28, 0.355, 0.27, 0.3, 0.32, 0.272, 0.345, 0.288, 0.268, 0.365, 0.31, 0.28, 0.335, 0.27, 0.295, 0.37, 0.276, 0.32, 0.268, 0.35, 0.3, 0.282, 0.33, 0.27, 0.312, 0.36, 0.278, 0.29, 0.34, 0.268, 0.305, 0.37, 0.28, 0.325, 0.27, 0.295, 0.355, 0.275, 0.315, 0.268, 0.34, 0.288, 0.365, 0.27, 0.31, 0.28, 0.33, 0.268, 0.3, 0.37, 0.275, 0.322, 0.285, 0.348, 0.27, 0.31, 0.278, 0.36, 0.295, 0.268, 0.335, 0.28, 0.37, 0.272, 0.305, 0.32, 0.268, 0.29, 0.352, 0.275, 0.33, 0.27, 0.3, 0.365, 0.282, 0.315, 0.268, 0.34, 0.29, 0.272, 0.37, 0.31, 0.278, 0.325, 0.268, 0.298, 0.355, 0.275, 0.33, 0.285, 0.27, 0.345, 0.308, 0.268, 0.37, 0.29, 0.32, 0.274, 0.36, 0.3, 0.28, 0.335, 0.27, 0.315, 0.268, 0.35, 0.288, 0.37, 0.275, 0.305, 0.325, 0.27, 0.295, 0.36, 0.282, 0.34, 0.268, 0.312, 0.275, 0.37, 0.29, 0.33, 0.27, 0.3, 0.352, 0.28, 0.268, 0.32, 0.365, 0.292, 0.274, 0.34, 0.31, 0.268, 0.37, 0.285, 0.328, 0.27, 0.3, 0.355, 0.278, 0.315, 0.268, 0.345, 0.29, 0.37, 0.272, 0.305, 0.33, 0.28, 0.268, 0.36, 0.295, 0.32, 0.274, 0.35, 0.288, 0.27, 0.37, 0.31, 0.28, 0.338, 0.268, 0.3, 0.365, 0.276, 0.322, 0.29, 0.27, 0.35, 0.305, 0.268, 0.37, 0.282, 0.33, 0.274, 0.315, 0.36, 0.295, 0.27, 0.34, 0.285, 0.268, 0.37, 0.3, 0.325, 0.275, 0.355, 0.29, 0.268, 0.312, 0.37, 0.28, 0.338, 0.27, 0.305]

# thresholds and tick labels
a_cuts = (0.288, 0.215)
c_cuts = (0.536, 0.369)
x_ticks_wide = [0, 2, 4, 6, 8, 10]
x_ticks_zoom = [0, 0.2, 0.4, 0.6, 0.8, 1, 1.2, 1.4, 1.6, 1.8, 2]
x_ticklabels_zoom = ['0', '0.2', '0.4', '0.6', '0.8', '1', '1.2', '1.4', '1.6', '1.8', '2']
y_ticks = [0.2, 0.3, 0.4, 0.5, 0.6, 0.7, 0.8]

# gene pair labels of panel A: label, label x, label y, arrow start, arrow end
gene_labels = ['pbp2x\npbp1a', 'divIVA\nply', 'pspA\nply', 'dexB\nply', 'pbp2x\npbp2b', 'mraY\npbp2b', 'pbp1a\npbp2b']
gene_text_x = [0.177, 2.714, 4.33, 6.10, 8.77, 9.29, 10.11]
gene_text_y = [0.63, 0.714, 0.673, 0.565, 0.693, 0.55, 0.503]
gene_from = [(0.397, 0.573), (2.91, 0.664), (4.53, 0.618), (6.327, 0.51), (9.018, 0.643), (9.49, 0.501), (10.04, 0.465)]
gene_to = [(0.397, 0.436), (2.91, 0.527), (4.53, 0.482), (6.327, 0.374), (9.018, 0.507), (9.07, 0.308), (9.48, 0.332)]

W, H = 737, 914
fig = plt.figure(figsize=(W / 100, H / 100), dpi=100)


def make_axes(top, bottom, right):
    return fig.add_axes([62.6 / W, 1 - bottom / H, (right - 62.6) / W, (bottom - top) / H])


def dots(ax, x, y, color, s=4.5, z=4):
    n = min(len(x), len(y))  # the long hand-typed lists can differ by a value or two
    ax.scatter(x[:n], y[:n], s=s, color=color, linewidths=0, zorder=z, clip_on=True)


def finish(ax, letter, letter_y, cuts, vx, vtop, xlim, ylim, power, legend_xy):
    ax.set_xlim(*xlim)
    ax.set_ylim(*ylim)
    for s in ax.spines.values():
        s.set_visible(False)
    ax.set_yticks(y_ticks)
    ax.tick_params(axis='both', length=0, colors=TEXT, labelsize=10.5)
    ax.tick_params(axis='y', pad=3.2)
    ax.tick_params(axis='x', pad=6.5)
    ax.set_ylabel('Mutual information', fontsize=10.7, color=TEXT, labelpad=3)
    ax.set_xlabel('Distance between positions (bp)', fontsize=10.7, color=TEXT, labelpad=3.5)
    dotted = dict(color=RED, lw=0.95, ls=(0, (1, 2.3)), zorder=6)
    ax.plot(xlim, [cuts[0]] * 2, **dotted)
    ax.plot(xlim, [cuts[1]] * 2, **dotted)
    ax.plot([vx, vx], [ylim[0], vtop], **dotted)
    tr = blended_transform_factory(ax.transAxes, ax.transData)
    ax.plot([-0.0172, -0.008], [cuts[0] + 0.006] * 2, ls='none', marker='*', ms=5, color=RED, mew=0, transform=tr, clip_on=False, zorder=7)
    ax.plot([-0.0095], [cuts[1] + 0.005], ls='none', marker='*', ms=5, color=RED, mew=0, transform=tr, clip_on=False, zorder=7)
    ax.text(1.0, -0.175, power, transform=ax.transAxes, ha='right', va='center', fontsize=11, color=TEXT)
    fig.text(11 / W, 1 - letter_y / H, letter, fontsize=11.5, fontweight='bold', va='center', color='black')
    handles = [Line2D([], [], ls='none', marker='o', ms=5.2, mew=0, color=GREY),
               Line2D([], [], ls='none', marker='o', ms=5.2, mew=0, color=BLUE)]
    ax.legend(handles, ['Indirect', 'Direct'], loc='center left', bbox_to_anchor=legend_xy, bbox_transform=fig.transFigure,
              frameon=False, fontsize=9, labelcolor=TEXT, handletextpad=1.15, labelspacing=0.35, borderpad=0, borderaxespad=0, handlelength=1.2)


# panel A
ax_a = make_axes(35, 239.5, 735)
ax_a.fill_between(a_grey_top_x, 0.1, a_grey_top, color=GREY, lw=0, zorder=1)
dots(ax_a, a_fill_x, a_fill_y, BLUE, z=2)
ax_a.fill_between(a_blue_top_x, 0.1, a_blue_top, color=BLUE, lw=0, zorder=2)
dots(ax_a, a_speck_x, a_speck_y, GREY, z=3)
dots(ax_a, a_dots_x, a_dots_y, BLUE)
finish(ax_a, 'A', 15, a_cuts, 0.1, 0.8, (0, 11.125), (0.1, 0.8), r'$\times\mathdefault{10^{5}}$', (654 / W, 1 - 64.5 / H))
ax_a.set_xticks(x_ticks_wide)
for label, tx, ty, start, end in zip(gene_labels, gene_text_x, gene_text_y, gene_from, gene_to):
    ax_a.text(tx, ty, label, fontsize=7.2, fontweight='bold', fontstyle='italic', va='center', ha='left', color='#111111', linespacing=1.25, zorder=8)
    ax_a.annotate('', xy=end, xytext=start, zorder=8,
                  arrowprops=dict(arrowstyle='-|>,head_width=0.17,head_length=0.36', color='black', lw=0.8, shrinkA=0, shrinkB=0))

# panel B
ax_b = make_axes(350, 554.3, 731)
ax_b.fill_between(b_grey_top_x, 0.1, b_grey_top, color=GREY, lw=0, zorder=1)
ax_b.fill_between(b_haze_x, 0.1, b_haze_top, color=BLUE, alpha=0.7, lw=0, zorder=2)
ax_b.fill_between(b_blue_top_x, 0.1, b_blue_top, color=BLUE, lw=0, zorder=3)
dots(ax_b, b_grey_dots_x, b_grey_dots_y, GREY, z=3)
dots(ax_b, b_fill_x, b_fill_y, BLUE)
dots(ax_b, b_dots_x, b_dots_y, BLUE)
dots(ax_b, b_right_x, b_right_y, BLUE)
finish(ax_b, 'B', 326, a_cuts, 1, 0.79, (0, 2), (0.1, 0.8), r'$\times\mathdefault{10^{4}}$', (650 / W, 1 - 379 / H))
ax_b.set_xticks(x_ticks_zoom, x_ticklabels_zoom)

# panel C
ax_c = make_axes(665, 869.5, 735)
ax_c.fill_between(c_grey_top_x, 0.19, c_grey_top, color=GREY, lw=0, zorder=1)
ax_c.fill_between(c_haze_x, 0.19, c_haze_top, color=BLUE, alpha=0.7, lw=0, zorder=2)
ax_c.fill_between(c_blue_top_x, 0.19, c_blue_top, color=BLUE, lw=0, zorder=3)
dots(ax_c, c_grey_dots_x, c_grey_dots_y, GREY, z=3)
dots(ax_c, c_fill_x, c_fill_y, BLUE)
dots(ax_c, c_dots_x, c_dots_y, BLUE)
finish(ax_c, 'C', 643, c_cuts, 0.1, 0.8, (0, 11.125), (0.19, 0.8), r'$\times\mathdefault{10^{5}}$', (654 / W, 1 - 694.5 / H))
ax_c.set_xticks(x_ticks_wide)

fig.savefig('out.png', dpi=100)
